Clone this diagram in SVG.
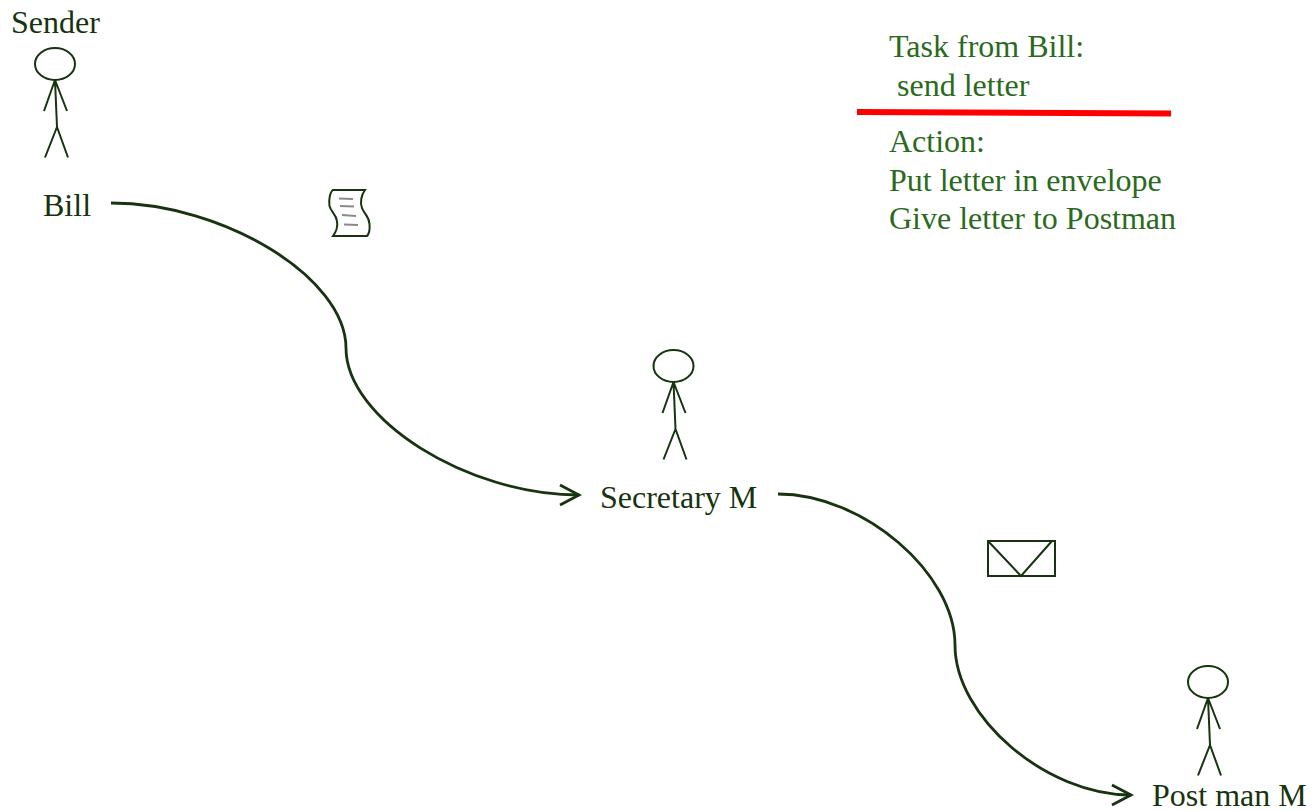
<svg xmlns="http://www.w3.org/2000/svg" width="1312" height="811" viewBox="0 0 1312 811">
<style>
text{font-family:"Liberation Serif","Times New Roman",serif;font-size:32px}
.d{fill:#17330f}
.g{fill:#2a6a1c}
.s{fill:none;stroke:#17330f;stroke-width:2}
.c{fill:none;stroke:#17330f;stroke-width:2.8}
.l{fill:none;stroke:#8a8a8a;stroke-width:2}
</style>
<defs>
<g id="stick" class="s"><ellipse cx="55" cy="64" rx="20" ry="16"/><path d="M55 80L44 111M55 80L67 111M55 80L57 127M57 127L45 157.500M57 127L68 157.500"/></g>
<marker id="arrow" markerUnits="userSpaceOnUse" markerWidth="26" markerHeight="26" refX="21" refY="11" orient="auto" overflow="visible"><path d="M2 1L21 11L2 21" fill="none" stroke="#17330f" stroke-width="2.8"/></marker>
</defs>
<rect width="1312" height="811" fill="#fff"/>
<g id="connectors">
<path class="c" marker-end="url(#arrow)" d="M111 203C224 203 346 278 346 348C346 419 467 495 579 495"/>
<path class="c" marker-end="url(#arrow)" d="M778 494C863 494 955 573 955 645C955 717 1046 795 1131 795"/>
</g>
<g id="bill"><use href="#stick"/><text class="d" x="11" y="33">Sender</text><text class="d" x="43" y="216">Bill</text></g>
<g id="secretary"><use href="#stick" transform="translate(618.5,302)"/><text class="d" x="600" y="508">Secretary M</text></g>
<g id="postman"><use href="#stick" transform="translate(1153,618)"/><text class="d" x="1152" y="806">Post man M</text></g>
<g id="scroll">
<path class="s" d="M333 190H365C361 195 360 203 362 208C364 214 369 216 369.500 224C370 230 369 234 367 236H333C336 232 338 227 337 221C336 214 331 212 329.500 206C328.500 200 330 192 333 190Z"/>
<path class="l" d="M339 198.500L353 199M340 206L354 206.500M342 215L356 216M344 224.500L358 225"/>
</g>
<g id="envelope"><path class="s" d="M988 541H1055V576H988ZM988 541L1021 576L1052 541"/></g>
<g id="task"><text class="g" x="889" y="57">Task from Bill:</text><text class="g" x="897" y="96">send letter</text>
<path d="M857 112L1171 113.500" stroke="#f00" stroke-width="6" fill="none"/>
<text class="g" x="889" y="152">Action:</text><text class="g" x="889" y="191">Put letter in envelope</text><text class="g" x="889" y="229">Give letter to Postman</text></g>
</svg>
